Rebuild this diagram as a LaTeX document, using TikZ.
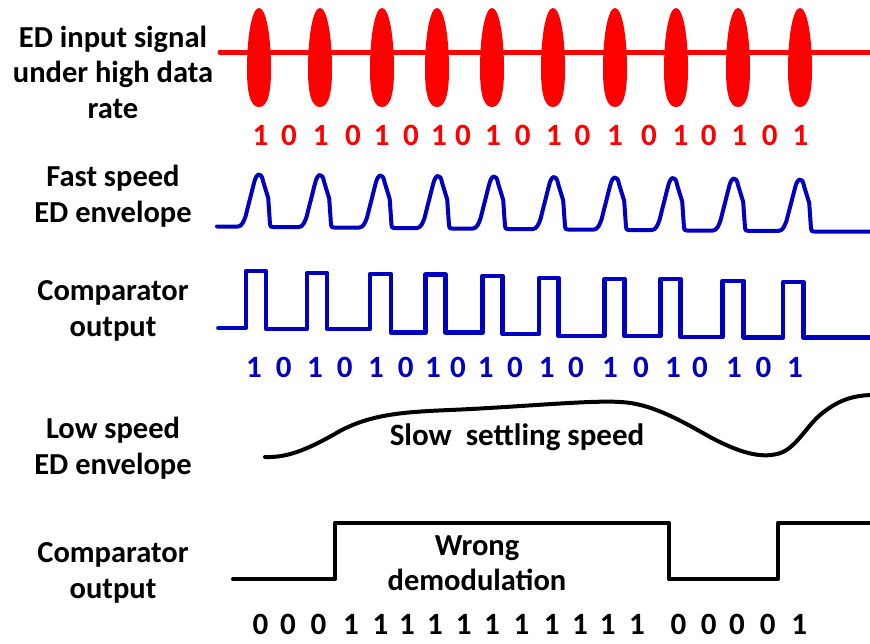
\documentclass[tikz,border=0pt]{standalone}
\usepackage{fontspec}
\setmainfont{Carlito}
\definecolor{sigred}{RGB}{255,0,0}
\definecolor{sigblue}{RGB}{0,0,190}
\begin{document}
\begin{tikzpicture}[x=1pt,y=-1pt,
  lab/.style={align=center,font=\bfseries\fontsize{30.5}{35.5}\selectfont,inner sep=0pt},
  bit/.style={font=\bfseries\fontsize{31}{34}\selectfont,inner sep=0pt},
  redline/.style={draw=sigred,line width=5pt,line cap=round},
  env/.style={draw=sigblue,line width=4pt,line cap=round,line join=round},
  comp/.style={draw=sigblue,line width=4.5pt,line cap=round,line join=round},
  blk/.style={draw=black,line width=4pt,line cap=round,line join=round}]
\useasboundingbox (0,0) rectangle (870,643);

% labels
\node[lab] (l1) at (113,72) {ED input signal\\under high data\\rate};
\node[lab] (l2) at (113,196) {Fast speed\\ED envelope};
\node[lab] (l3) at (113,311) {Comparator\\output};
\node[lab] (l4) at (113,448) {Low speed\\ED envelope};
\node[lab] (l5) at (113,573) {Comparator\\output};

% row 1: red input signal
\draw[redline] (220,52) -- (870,52);
\foreach \p in {259,320,382,437,492,553,615,676,738,800}{
  \fill[sigred] (\p,8) .. controls ({\p+7},8) and ({\p+12},35) .. ({\p+12},70)
     .. controls ({\p+12},98) and ({\p+7},107) .. (\p,107)
     .. controls ({\p-7},107) and ({\p-12},98) .. ({\p-12},70)
     .. controls ({\p-12},35) and ({\p-7},8) .. (\p,8) -- cycle;
}
\foreach \x/\d [count=\i] in {260.5/1,289/0,320.7/1,353/0,381.7/1,411/0,439/1,463/0,493/1,522.7/0,554/1,582.5/0,615/1,649/0,680.5/1,708.7/0,739.5/1,769.8/0,800.5/1}{
  \node[bit,text=sigred] (r\i) at (\x,135) {\d};
}

% row 2: fast envelope
\draw[env] (217,226.5)
  foreach \p/\a/\t/\c in {259/226.5/175/227, 320/227/175.5/227.5, 380.5/227.5/176/228,
    438/228/176.5/228.5, 494/228.5/177/229, 554/229/177.5/229.5, 615/229.5/178/230,
    673/230/178.5/230.5, 734/230.5/179/230.8, 800/230.8/180/231.5}{
    -- ({\p-21},\a) .. controls ({\p-17},\a) and ({\p-15},{\a-6}) .. ({\p-13.5},{\a-10})
    -- ({\p-5},{\t+8}) .. controls ({\p-2.5},{\t-3}) and ({\p+2.5},{\t-3}) .. ({\p+4},{\t+6})
    -- ({\p+9.2},{\t+23}) -- ({\p+11},{\c-3}) .. controls ({\p+11.5},\c) .. ({\p+14},\c)
  } -- (870,231.5);

% row 3: comparator output
\draw[comp] (218.4,328) -- (245.8,328) -- (245.8,271) -- (266,271) -- (266,329)
  -- (306.8,329) -- (306.8,273) -- (327,273) -- (327,329)
  -- (370,329) -- (370,274) -- (391,274) -- (391,332.6)
  -- (425.5,332.6) -- (425.5,274.5) -- (445.7,274.5) -- (445.7,332.6)
  -- (482.7,332.6) -- (482.7,276) -- (502.5,276) -- (502.5,334)
  -- (539,334) -- (539,278) -- (558.5,278) -- (558.5,336)
  -- (604.4,336) -- (604.4,279) -- (624.6,279) -- (624.6,336)
  -- (660.3,336) -- (660.3,279) -- (680.5,279) -- (680.5,337)
  -- (722.6,337) -- (722.6,281) -- (743.7,281) -- (743.7,337.5)
  -- (783.2,337.5) -- (783.2,282) -- (803.4,282) -- (803.4,337.5) -- (870,337.5);
\foreach \x/\d [count=\i] in {254/1,283.7/0,315/1,344.7/0,376/1,405.7/0,433/1,458/0,485.7/1,515/0,546.7/1,576/0,610/1,641/0,673/1,700/0,734/1,763.5/0,795/1}{
  \node[bit,text=sigblue] (b\i) at (\x,367) {\d};
}

% row 4: slow envelope
\draw[blk] (265,457) .. controls (290,458) and (312,447) .. (340,431)
  .. controls (370,415) and (400,412) .. (450,410)
  .. controls (520,407) and (590,400) .. (620,402)
  .. controls (650,403) and (680,420) .. (710,437)
  .. controls (740,453) and (760,458) .. (777,454)
  .. controls (795,450) and (805,428) .. (820,415)
  .. controls (838,400) and (852,396) .. (870,395);
\node[bit] (slow) at (517,437) {Slow\ \ settling speed};

% row 5: comparator output (wrong)
\draw[blk] (233,579) -- (335.4,579) -- (335.4,522.5) -- (668.8,522.5) -- (668.8,579) -- (778,579) -- (778,522.5) -- (870,522.5);
\node[lab] (wrong) at (477,563) {Wrong\\demodulation};
\foreach \x/\d [count=\i] in {260.5/0,288/0,318.6/0,351/1,380.5/1,407/1,435/1,463.8/1,492/1,521.5/1,551.8/1,580/1,607.7/1,637/1,678.4/0,708.7/0,737/0,767.6/0,799.2/1}{
  \node[bit] (k\i) at (\x,624) {\d};
}
\end{tikzpicture}
\end{document}
